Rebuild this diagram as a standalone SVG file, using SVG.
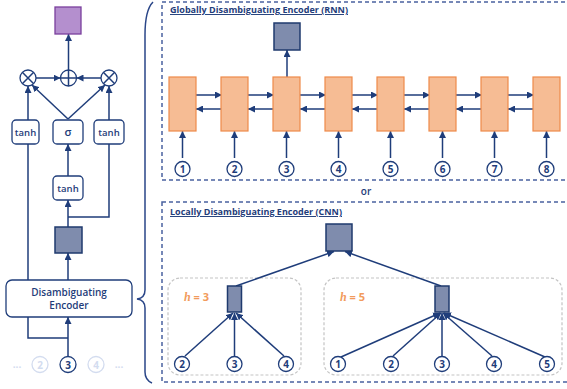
<svg xmlns="http://www.w3.org/2000/svg" width="567" height="389" viewBox="0 0 567 389">
<defs>
<marker id="ah" viewBox="0 0 10 10" refX="10" refY="5" markerWidth="7" markerHeight="7" markerUnits="userSpaceOnUse" orient="auto">
<path d="M0,0 L10,5 L0,10 z" fill="#1f3d7a"/>
</marker>
<style>
.ln{stroke:#1f3d7a;stroke-width:1.5;fill:none}
.arr{stroke:#1f3d7a;stroke-width:1.5;fill:none;marker-end:url(#ah)}
.box{fill:#fff;stroke:#1f3d7a;stroke-width:1.3}
.dk{fill:#7f8cad;stroke:#1f3a6e;stroke-width:1.5}
.or{fill:#f6bc94;stroke:#ee8a4a;stroke-width:1.2}
.num{fill:#fff;stroke:#1f3d7a;stroke-width:1.3}
.fnum{fill:#fff;stroke:#d3dcef;stroke-width:1.3}
.t{font-family:"Open Sans","Noto Sans",sans-serif;fill:#1f3d7a;font-weight:600;text-anchor:middle}
.nt{font-family:"Open Sans","Noto Sans",sans-serif;fill:#1f3d7a;font-weight:700;font-size:10px;text-anchor:middle}
.ft{font-family:"Open Sans","Noto Sans",sans-serif;fill:#d3dcef;font-weight:700;font-size:10px;text-anchor:middle}
.ttl{font-family:"Open Sans","Noto Sans",sans-serif;fill:#1f3d7a;font-weight:700;font-size:9.5px;text-decoration:underline}
.dash{fill:none;stroke:#4a62a0;stroke-width:1.5;stroke-dasharray:4 3}
.grey{fill:none;stroke:#c4c4c4;stroke-width:1.2;stroke-dasharray:3 2}
.h{font-family:"Open Sans","Noto Sans",sans-serif;fill:#f29b5c;font-weight:700;font-size:11px}
</style>
</defs>

<!-- brace -->
<path d="M153,2 Q145,10 145,35 L145,290 Q145,298 137,299 Q145,300 145,308 L145,372 Q145,380 152,383" fill="none" stroke="#2a4688" stroke-width="1.5"/>

<!-- panels -->
<rect class="dash" x="162" y="2" width="410" height="178"/>
<rect class="dash" x="162" y="202" width="410" height="180"/>
<text class="ttl" x="170" y="13" textLength="178" lengthAdjust="spacingAndGlyphs">Globally Disambiguating Encoder (RNN)</text>
<text class="ttl" x="170" y="215" textLength="172" lengthAdjust="spacingAndGlyphs">Locally Disambiguating Encoder (CNN)</text>
<text class="t" x="366" y="195" font-size="10" font-weight="700">or</text>
<rect class="grey" x="168" y="278" width="133" height="97" rx="12"/>
<rect class="grey" x="324" y="278" width="238" height="97" rx="12"/>
<text class="h" x="184" y="301"><tspan font-family="'Liberation Serif',serif" font-style="italic" font-size="12">h</tspan> = 3</text>
<text class="h" x="340" y="301"><tspan font-family="'Liberation Serif',serif" font-style="italic" font-size="12">h</tspan> = 5</text>

<g id="connectors">
<!-- left cell -->
<line class="arr" x1="68.5" y1="70" x2="68.5" y2="34"/>
<line class="arr" x1="36" y1="78" x2="60.5" y2="78"/>
<line class="arr" x1="101" y1="78" x2="76.5" y2="78"/>
<line class="arr" x1="28" y1="120" x2="28" y2="86"/>
<line class="arr" x1="109" y1="120" x2="109" y2="86"/>
<line class="arr" x1="68" y1="119" x2="32" y2="85"/>
<line class="arr" x1="68" y1="119" x2="105" y2="85"/>
<line class="arr" x1="68" y1="176" x2="68" y2="144"/>
<line class="arr" x1="68" y1="227" x2="68" y2="200"/>
<line class="arr" x1="68" y1="280" x2="68" y2="253"/>
<line class="arr" x1="68" y1="356" x2="68" y2="317"/>
<polyline class="ln" points="109,144 109,217 68,217"/>
<polyline class="ln" points="28,144 28,280"/>
<polyline class="ln" points="28,317 28,338 68,338"/>
<!-- RNN -->
<line class="arr" x1="287" y1="77" x2="287" y2="50"/>
<g id="rnn-fw">
<line class="arr" x1="196" y1="95" x2="222" y2="95"/>
<line class="arr" x1="248" y1="95" x2="274" y2="95"/>
<line class="arr" x1="300" y1="95" x2="326" y2="95"/>
<line class="arr" x1="352" y1="95" x2="378" y2="95"/>
<line class="arr" x1="404" y1="95" x2="430" y2="95"/>
<line class="arr" x1="456" y1="95" x2="482" y2="95"/>
<line class="arr" x1="508" y1="95" x2="534" y2="95"/>
<line class="arr" x2="196" y2="109" x1="222" y1="109"/>
<line class="arr" x2="248" y2="109" x1="274" y1="109"/>
<line class="arr" x2="300" y2="109" x1="326" y1="109"/>
<line class="arr" x2="352" y2="109" x1="378" y1="109"/>
<line class="arr" x2="404" y2="109" x1="430" y1="109"/>
<line class="arr" x2="456" y2="109" x1="482" y1="109"/>
<line class="arr" x2="508" y2="109" x1="534" y1="109"/>
</g>
<line class="arr" x1="182.5" y1="158" x2="182.5" y2="131"/>
<line class="arr" x1="234.5" y1="158" x2="234.5" y2="131"/>
<line class="arr" x1="286.5" y1="158" x2="286.5" y2="131"/>
<line class="arr" x1="338.5" y1="158" x2="338.5" y2="131"/>
<line class="arr" x1="390.5" y1="158" x2="390.5" y2="131"/>
<line class="arr" x1="442.5" y1="158" x2="442.5" y2="131"/>
<line class="arr" x1="494.5" y1="158" x2="494.5" y2="131"/>
<line class="arr" x1="546.5" y1="158" x2="546.5" y2="131"/>
<!-- CNN -->
<line class="arr" x1="236" y1="286" x2="334" y2="251.5"/>
<line class="arr" x1="441" y1="286" x2="345" y2="251.5"/>
<line class="arr" x1="185" y1="356" x2="233" y2="313"/>
<line class="arr" x1="234.5" y1="356" x2="234.5" y2="313"/>
<line class="arr" x1="284" y1="356" x2="236" y2="313"/>
<line class="arr" x1="341" y1="357" x2="440" y2="313"/>
<line class="arr" x1="393" y1="356" x2="441" y2="313"/>
<line class="arr" x1="442" y1="356" x2="442" y2="313"/>
<line class="arr" x1="492" y1="356" x2="443" y2="313"/>
<line class="arr" x1="545" y1="357" x2="444" y2="313"/>
</g>

<!-- left cell nodes -->
<g id="out-purple"><rect x="55" y="7" width="26" height="27" fill="#b48fce" stroke="#7a3f9d" stroke-width="1.3"/></g>
<g id="mul-left"><circle cx="28" cy="78" r="8" class="num"/><path d="M22.3,72.3 L33.7,83.7 M33.7,72.3 L22.3,83.7" class="ln" stroke-width="1.2"/></g>
<g id="add"><circle cx="68.5" cy="78" r="8" class="num"/><path d="M60.5,78 H76.5 M68.5,70 V86" class="ln" stroke-width="1.2"/></g>
<g id="mul-right"><circle cx="109" cy="78" r="8" class="num"/><path d="M103.3,72.3 L114.7,83.7 M114.7,72.3 L103.3,83.7" class="ln" stroke-width="1.2"/></g>
<g id="tanh-left"><rect class="box" x="12" y="120" width="27" height="24" rx="4"/><text class="t" x="25.5" y="135.5" font-size="9.5">tanh</text></g>
<g id="sigma"><rect class="box" x="53" y="120" width="30" height="24" rx="4"/><text class="t" x="68" y="136" font-size="11" font-weight="700">σ</text></g>
<g id="tanh-right"><rect class="box" x="94" y="120" width="30" height="24" rx="4"/><text class="t" x="109" y="135.5" font-size="9.5">tanh</text></g>
<g id="tanh-low"><rect class="box" x="53" y="176" width="30" height="24" rx="4"/><text class="t" x="68" y="191.5" font-size="9.5">tanh</text></g>
<g id="hidden"><rect class="dk" x="55" y="227" width="27" height="26"/></g>
<g id="encoder"><rect class="box" x="6" y="280" width="126" height="37" rx="6"/><text class="t" x="69" y="296" font-size="10">Disambiguating</text><text class="t" x="69" y="308.5" font-size="10">Encoder</text></g>
<g id="inputs-left">
<text class="ft" x="17" y="368">...</text>
<circle class="fnum" cx="40" cy="364.5" r="8"/><text class="ft" x="40" y="368.5">2</text>
<circle class="num" cx="68" cy="364.5" r="8"/><text class="nt" x="68" y="368.5">3</text>
<circle class="fnum" cx="96" cy="364.5" r="8"/><text class="ft" x="96" y="368.5">4</text>
<text class="ft" x="119" y="368">...</text>
</g>

<!-- RNN nodes -->
<g id="rnn-out"><rect class="dk" x="274" y="23" width="26" height="27"/></g>
<g id="rnn-cells">
<rect class="or" x="169" y="77" width="27" height="54"/>
<rect class="or" x="221" y="77" width="27" height="54"/>
<rect class="or" x="273" y="77" width="27" height="54"/>
<rect class="or" x="325" y="77" width="27" height="54"/>
<rect class="or" x="377" y="77" width="27" height="54"/>
<rect class="or" x="429" y="77" width="27" height="54"/>
<rect class="or" x="481" y="77" width="27" height="54"/>
<rect class="or" x="533" y="77" width="27" height="54"/>
</g>
<g id="rnn-inputs">
<circle class="num" cx="182.5" cy="169" r="7.5"/><text class="nt" x="182.5" y="172.5">1</text>
<circle class="num" cx="234.5" cy="169" r="7.5"/><text class="nt" x="234.5" y="172.5">2</text>
<circle class="num" cx="286.5" cy="169" r="7.5"/><text class="nt" x="286.5" y="172.5">3</text>
<circle class="num" cx="338.5" cy="169" r="7.5"/><text class="nt" x="338.5" y="172.5">4</text>
<circle class="num" cx="390.5" cy="169" r="7.5"/><text class="nt" x="390.5" y="172.5">5</text>
<circle class="num" cx="442.5" cy="169" r="7.5"/><text class="nt" x="442.5" y="172.5">6</text>
<circle class="num" cx="494.5" cy="169" r="7.5"/><text class="nt" x="494.5" y="172.5">7</text>
<circle class="num" cx="546.5" cy="169" r="7.5"/><text class="nt" x="546.5" y="172.5">8</text>
</g>

<!-- CNN nodes -->
<g id="cnn-out"><rect class="dk" x="326" y="224" width="26" height="27"/></g>
<g id="cnn-h3"><rect class="dk" x="227.5" y="286" width="14" height="26"/></g>
<g id="cnn-h5"><rect class="dk" x="435" y="286" width="14" height="26"/></g>
<g id="cnn-inputs">
<circle class="num" cx="182" cy="364" r="7.5"/><text class="nt" x="182" y="367.5">2</text>
<circle class="num" cx="234.5" cy="364" r="7.5"/><text class="nt" x="234.5" y="367.5">3</text>
<circle class="num" cx="286" cy="364" r="7.5"/><text class="nt" x="286" y="367.5">4</text>
<circle class="num" cx="338" cy="364" r="7.5"/><text class="nt" x="338" y="367.5">1</text>
<circle class="num" cx="391" cy="364" r="7.5"/><text class="nt" x="391" y="367.5">2</text>
<circle class="num" cx="442" cy="364" r="7.5"/><text class="nt" x="442" y="367.5">3</text>
<circle class="num" cx="494" cy="364" r="7.5"/><text class="nt" x="494" y="367.5">4</text>
<circle class="num" cx="547" cy="364" r="7.5"/><text class="nt" x="547" y="367.5">5</text>
</g>
</svg>
